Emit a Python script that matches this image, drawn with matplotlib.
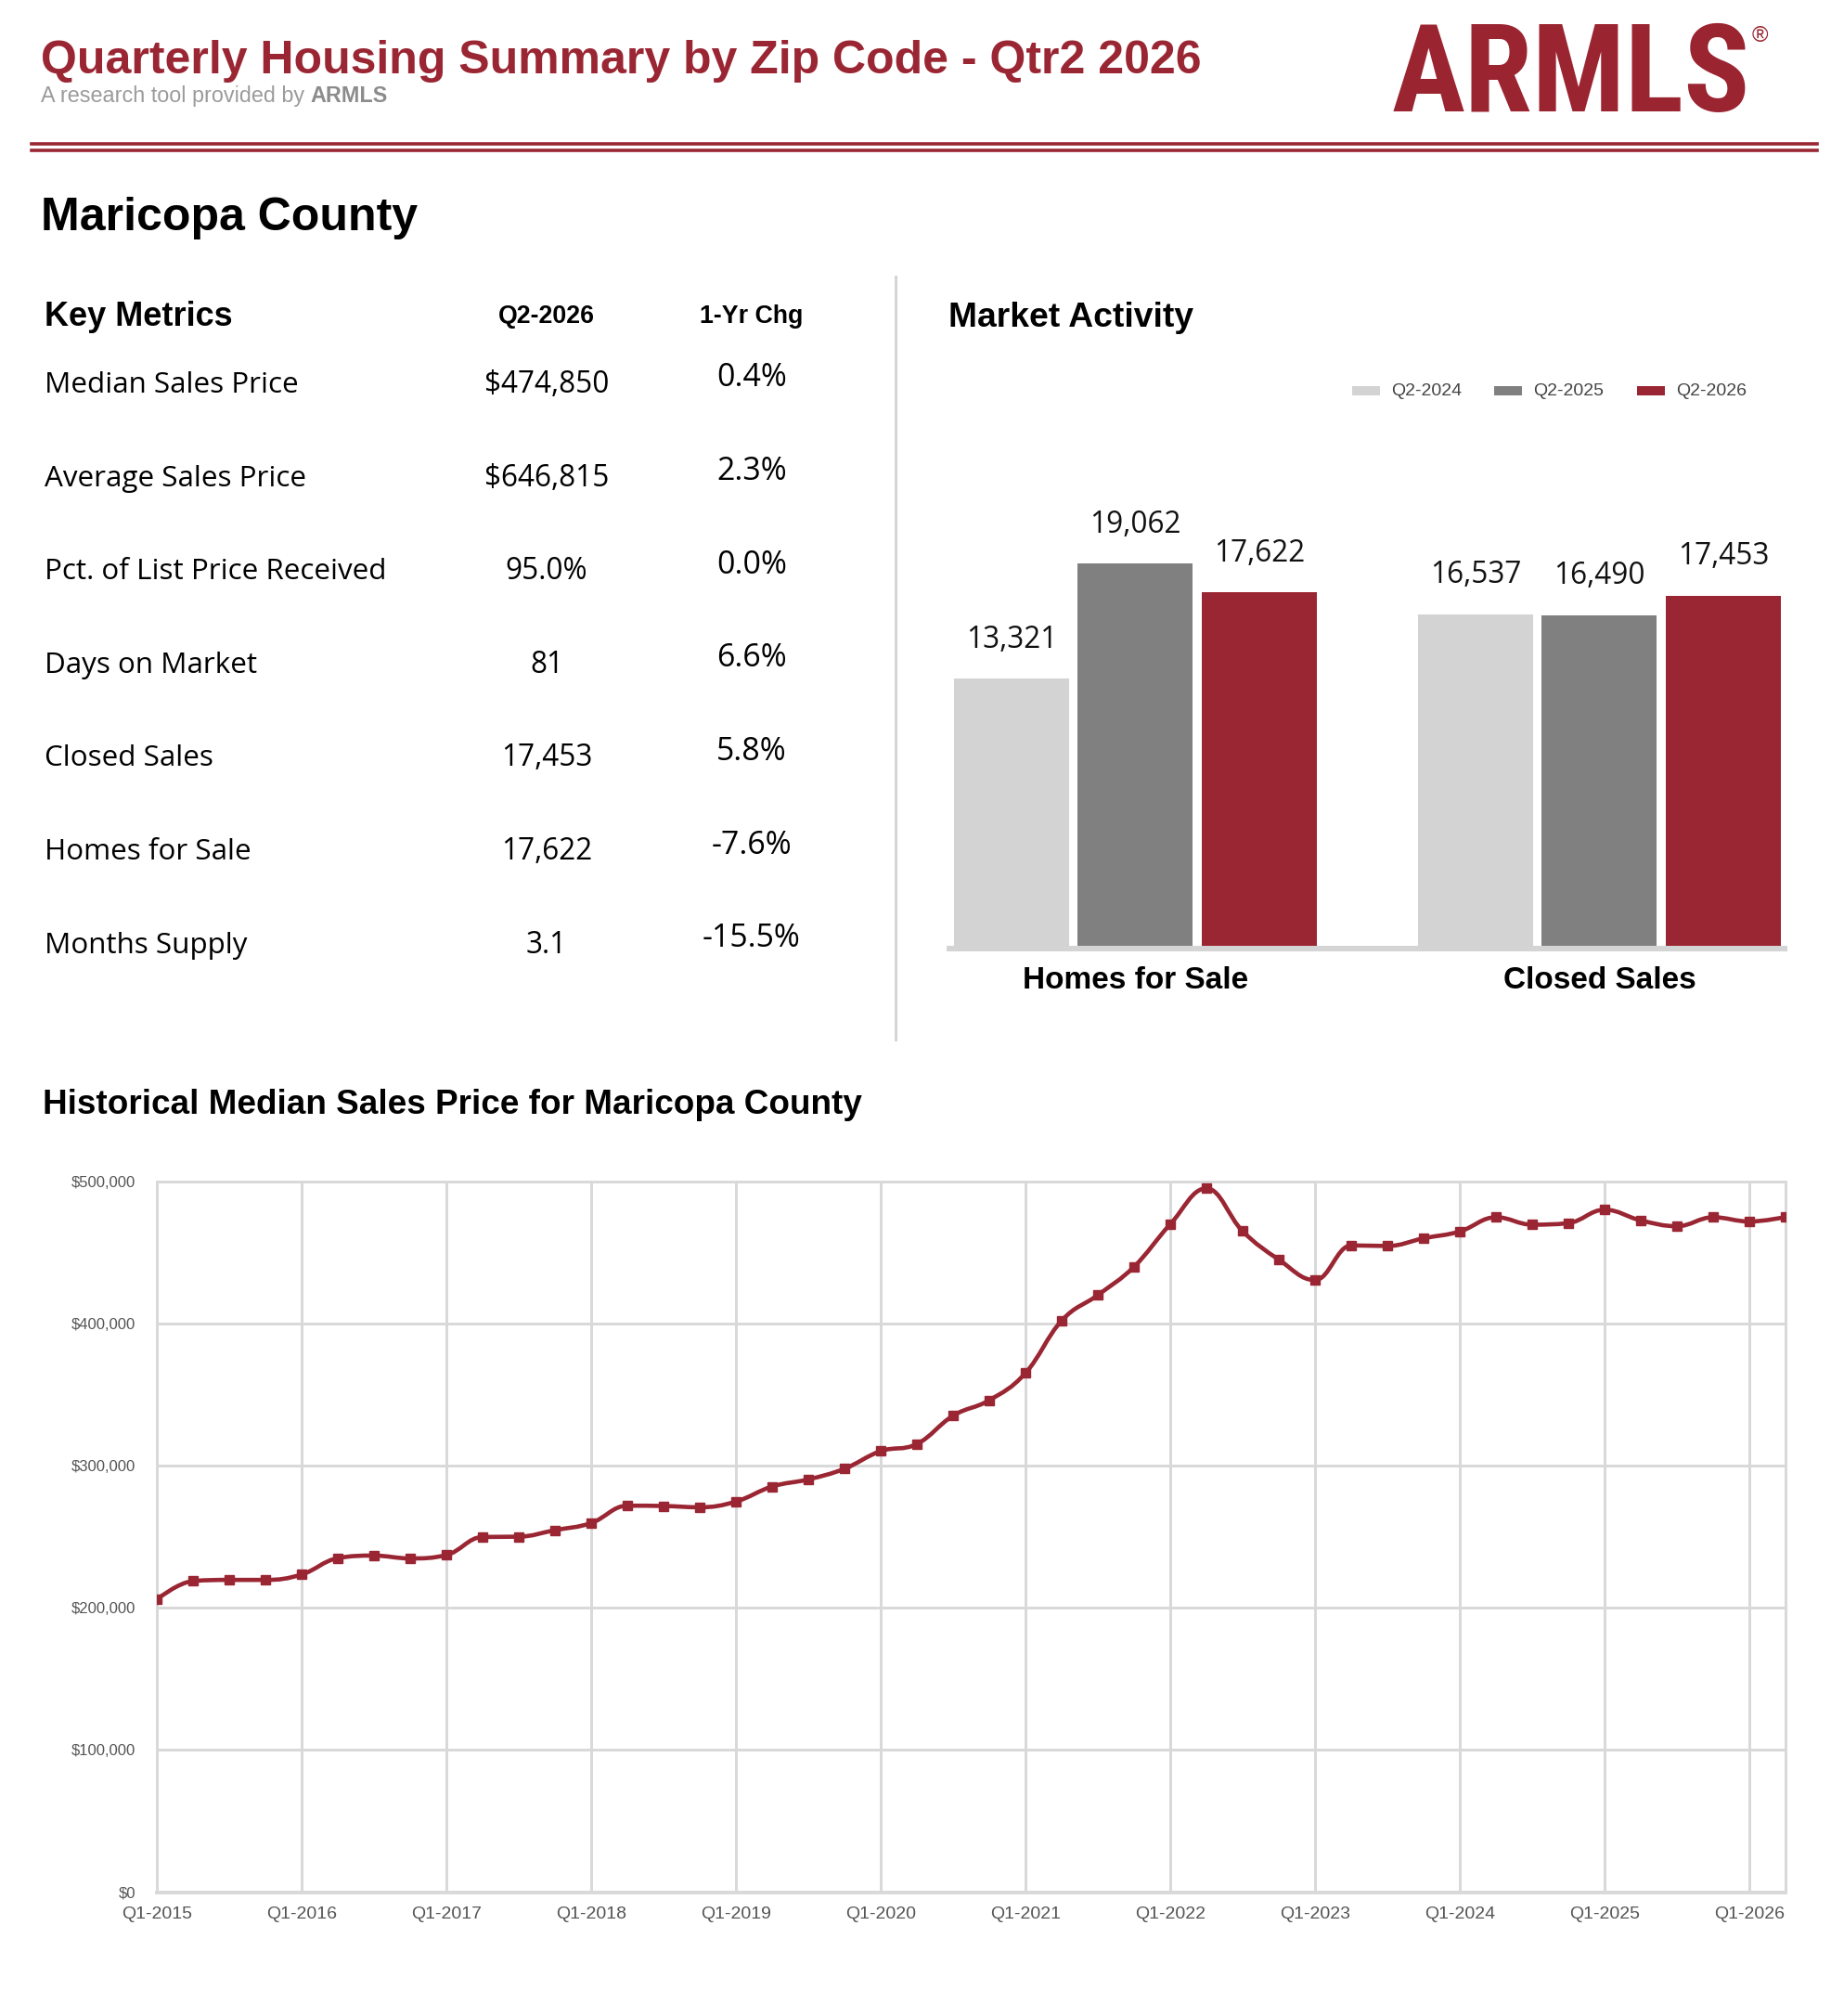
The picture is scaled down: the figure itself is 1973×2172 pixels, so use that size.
import matplotlib
matplotlib.use('Agg')
import matplotlib.pyplot as plt
from matplotlib import font_manager
from matplotlib.path import Path
from matplotlib.patches import PathPatch, Rectangle
from matplotlib.lines import Line2D
from matplotlib.transforms import blended_transform_factory
from matplotlib.ticker import FuncFormatter
import numpy as np

# ---------------- data ----------------
report_title = 'Quarterly Housing Summary by Zip Code - Qtr2 2026'
subtitle_text = 'A research tool provided by'
subtitle_brand = 'ARMLS'
area_name = 'Maricopa County'

metric_header = ['Key Metrics', 'Q2-2026', '1-Yr Chg']
metric_names = ['Median Sales Price', 'Average Sales Price', 'Pct. of List Price Received',
                'Days on Market', 'Closed Sales', 'Homes for Sale', 'Months Supply']
metric_values = ['$474,850', '$646,815', '95.0%', '81', '17,453', '17,622', '3.1']
metric_changes = ['0.4%', '2.3%', '0.0%', '6.6%', '5.8%', '-7.6%', '-15.5%']

bar_title = 'Market Activity'
bar_categories = ['Homes for Sale', 'Closed Sales']
bar_series = ['Q2-2024', 'Q2-2025', 'Q2-2026']
homes_for_sale = [13321, 19062, 17622]
closed_sales = [16537, 16490, 17453]

line_title = 'Historical Median Sales Price for Maricopa County'
quarter_ticks = ['Q1-2015', 'Q1-2016', 'Q1-2017', 'Q1-2018', 'Q1-2019', 'Q1-2020',
                 'Q1-2021', 'Q1-2022', 'Q1-2023', 'Q1-2024', 'Q1-2025', 'Q1-2026']
median_price = [205900, 218800, 219600, 219600,
                223400, 234900, 236700, 234700,
                237100, 249800, 250000, 254600,
                259600, 271800, 271600, 270700,
                274700, 285300, 290300, 297800,
                310200, 315200, 335100, 346000,
                365100, 402000, 420000, 439900,
                469800, 495000, 464900, 444900,
                430500, 454900, 454500, 459900,
                464700, 474700, 469500, 470600,
                480000, 472500, 468400, 474700,
                471700, 474850]

# ---------------- style ----------------
ARIAL = 'Liberation Sans'
SEGOE = 'Open Sans'
RED = '#9A2633'
LOGO_RED = '#9B2431'
LIGHT = '#D3D3D3'
DARK = '#808080'
GRID = '#D9D9D9'
plt.rcParams['font.family'] = [ARIAL, 'DejaVu Sans']

W, H = 1974, 2172
fig = plt.figure(figsize=(W / 100, H / 100), dpi=100)
fig.patch.set_facecolor('white')


def fx(x):
    return x / W


def fy(y):
    return 1 - y / H


def ptext(x, y, s, **kw):
    kw.setdefault('va', 'baseline')
    return fig.text(fx(x), fy(y), s, **kw)


PX = 0.72  # points per pixel at dpi 100

# ---------------- header ----------------
ptext(44, 79, report_title, fontsize=36, fontweight='bold', color=RED, family=ARIAL)
sub = ptext(44, 110, subtitle_text, fontsize=16.8, color='#9B9B9B', family=ARIAL)
fig.canvas.draw()
renderer = fig.canvas.get_renderer()
bb = sub.get_window_extent(renderer)
ptext(bb.x1 + 6.5, 110, subtitle_brand, fontsize=16.8, fontweight='bold', color='#8C8C8C', family=ARIAL)

# logo (text), pick a condensed heavy face if one is installed
fonts = font_manager.fontManager.ttflist
names = {f.name for f in fonts}
has_dejavu_cond = any(f.name == 'DejaVu Sans' and f.stretch == 'condensed' and f.weight in ('bold', 700)
                      for f in fonts)
if 'Liberation Sans Narrow' in names:
    logo_kw = dict(fontsize=95, fontweight='bold', family='Liberation Sans Narrow')
elif 'Roboto Condensed' in names:
    logo_kw = dict(fontsize=95, fontweight='black', family='Roboto Condensed')
elif has_dejavu_cond:
    logo_kw = dict(fontsize=84, fontweight='bold', family='DejaVu Sans', fontstretch='condensed')
else:
    logo_kw = dict(fontsize=80, fontweight='heavy', family=ARIAL)
logo = ptext(1500, 120, 'ARMLS', color=LOGO_RED, **logo_kw)
lb = logo.get_window_extent(renderer)
fig.text((lb.x1 + 10) / W, fy(39), '\u00ae', fontsize=17, color=LOGO_RED, family=ARIAL,
         ha='center', va='center')

for yy in (154.7, 162.0):
    fig.add_artist(Line2D([fx(34), fx(1958)], [fy(yy), fy(yy)], color=RED, lw=3.6 * PX))

ptext(44, 248, area_name, fontsize=36, fontweight='bold', color='black', family=ARIAL)

# divider
fig.add_artist(Line2D([fx(965), fx(965)], [fy(298), fy(1120)], color='#D5D5D5', lw=3 * PX))

# ---------------- key metrics ----------------
ptext(48, 351, metric_header[0], fontsize=26, fontweight='bold', family=ARIAL)
ptext(589, 347.5, metric_header[1], fontsize=19.3, fontweight='bold', family=ARIAL, ha='center')
ptext(810, 347.5, metric_header[2], fontsize=19.3, fontweight='bold', family=ARIAL, ha='center')
for i, (nm, val, chg) in enumerate(zip(metric_names, metric_values, metric_changes)):
    y = 423 + i * 100.6
    ptext(48, y, nm, fontsize=22.6, family=SEGOE, color='black')
    ptext(589, y, val, fontsize=22.7, family=SEGOE, color='black', ha='center')
    ptext(810, y - 6.5, chg, fontsize=24.4, family=SEGOE, color='black', ha='center')

# ---------------- market activity ----------------
ptext(1022, 351.5, bar_title, fontsize=26.8, fontweight='bold', family=ARIAL)
series_colors = [LIGHT, DARK, RED]
for i, (s, c) in enumerate(zip(bar_series, series_colors)):
    lx = 1457 + i * 153.5
    fig.add_artist(Rectangle((fx(lx), fy(426)), 30 / W, 10 / H, facecolor=c, edgecolor='none'))
    ptext(lx + 42, 421, s, fontsize=14, family=ARIAL, color='#444444', va='center')

bar_base = 1019
px_per_unit = 412.0 / 19062
ymax_b = 24000
ax_h = ymax_b * px_per_unit
ax_b = fig.add_axes([fx(1023), fy(bar_base), 900 / W, ax_h / H])
ax_b.set_xlim(-0.401, 1.399)
ax_b.set_ylim(0, ymax_b)
step = 0.267
groups = np.arange(len(bar_categories))
for s, c in enumerate(series_colors):
    vals = [homes_for_sale[s], closed_sales[s]]
    xs = groups + (s - 1) * step
    ax_b.bar(xs, vals, width=0.248, color=c, edgecolor='none', zorder=2)
    for xv, v in zip(xs, vals):
        ax_b.annotate(f'{v:,}', (xv, v), xytext=(0, 33.5), textcoords='offset pixels',
                      ha='center', va='baseline', fontsize=22.7, family=SEGOE, color='#111111')
for sp in ('left', 'top', 'right'):
    ax_b.spines[sp].set_visible(False)
ax_b.spines['bottom'].set_color('#D4D4D4')
ax_b.spines['bottom'].set_linewidth(6 * PX)
ax_b.spines['bottom'].set_position(('outward', 3 * PX))
ax_b.set_xticks([])
ax_b.set_yticks([])
ax_b.patch.set_alpha(0)
tb = blended_transform_factory(ax_b.transData, fig.transFigure)
for g, cat in zip(groups, bar_categories):
    ax_b.text(g, fy(1065), cat, transform=tb, ha='center', va='baseline',
              fontsize=24, fontweight='bold', family=ARIAL, color='black')

# ---------------- historical line ----------------
ptext(46, 1200, line_title, fontsize=26.6, fontweight='bold', family=ARIAL)

top_px, bot_px = 1272.7, 2038.5
ax_l = fig.add_axes([fx(169), fy(bot_px), (1924 - 169) / W, (bot_px - top_px) / H])
n = len(median_price)
xq = np.arange(n, dtype=float)
yq = np.array(median_price, dtype=float)
ax_l.set_xlim(0, n - 1)
ax_l.set_ylim(0, 500000)


def spline_path(xs, ys, smoothing=1.5):
    denom = smoothing + 1
    m = len(xs)
    left = [None] * m
    right = [None] * m
    for i in range(1, m - 1):
        lx = (smoothing * xs[i] + xs[i - 1]) / denom
        ly = (smoothing * ys[i] + ys[i - 1]) / denom
        rx = (smoothing * xs[i] + xs[i + 1]) / denom
        ry = (smoothing * ys[i] + ys[i + 1]) / denom
        corr = ((ry - ly) * (rx - xs[i])) / (rx - lx) + ys[i] - ry
        ly += corr
        ry += corr
        if ly > ys[i - 1] and ly > ys[i]:
            ly = max(ys[i - 1], ys[i]); ry = 2 * ys[i] - ly
        elif ly < ys[i - 1] and ly < ys[i]:
            ly = min(ys[i - 1], ys[i]); ry = 2 * ys[i] - ly
        if ry > ys[i + 1] and ry > ys[i]:
            ry = max(ys[i + 1], ys[i]); ly = 2 * ys[i] - ry
        elif ry < ys[i + 1] and ry < ys[i]:
            ry = min(ys[i + 1], ys[i]); ly = 2 * ys[i] - ry
        left[i] = (lx, ly)
        right[i] = (rx, ry)
    verts = [(xs[0], ys[0])]
    codes = [Path.MOVETO]
    for i in range(1, m):
        c1 = right[i - 1] if right[i - 1] is not None else (xs[i - 1], ys[i - 1])
        c2 = left[i] if left[i] is not None else (xs[i], ys[i])
        verts += [c1, c2, (xs[i], ys[i])]
        codes += [Path.CURVE4] * 3
    return Path(verts, codes)


ax_l.add_patch(PathPatch(spline_path(xq, yq), facecolor='none', edgecolor=RED,
                         lw=4.6 * PX, joinstyle='round', capstyle='round', zorder=3))
ax_l.plot(xq, yq, ls='none', marker='s', ms=10.5 * PX, color=RED, zorder=4)

ax_l.set_xticks(np.arange(0, n, 4))
ax_l.set_xticklabels(quarter_ticks)
ax_l.set_yticks(np.arange(0, 500001, 100000))
ax_l.yaxis.set_major_formatter(FuncFormatter(lambda v, p: f'${v:,.0f}'))
ax_l.grid(True, color=GRID, lw=3 * PX)
ax_l.set_axisbelow(True)
for sp in ax_l.spines.values():
    sp.set_color(GRID)
    sp.set_linewidth(3 * PX)
ax_l.spines['bottom'].set_linewidth(4 * PX)
ax_l.tick_params(axis='both', length=0)
ax_l.tick_params(axis='y', pad=16.5, labelsize=12, labelcolor='#555555')
ax_l.tick_params(axis='x', pad=11, labelsize=14, labelcolor='#555555')
for lab in ax_l.get_xticklabels() + ax_l.get_yticklabels():
    lab.set_family(ARIAL)

fig.savefig('out.png', dpi=100, facecolor='white')
